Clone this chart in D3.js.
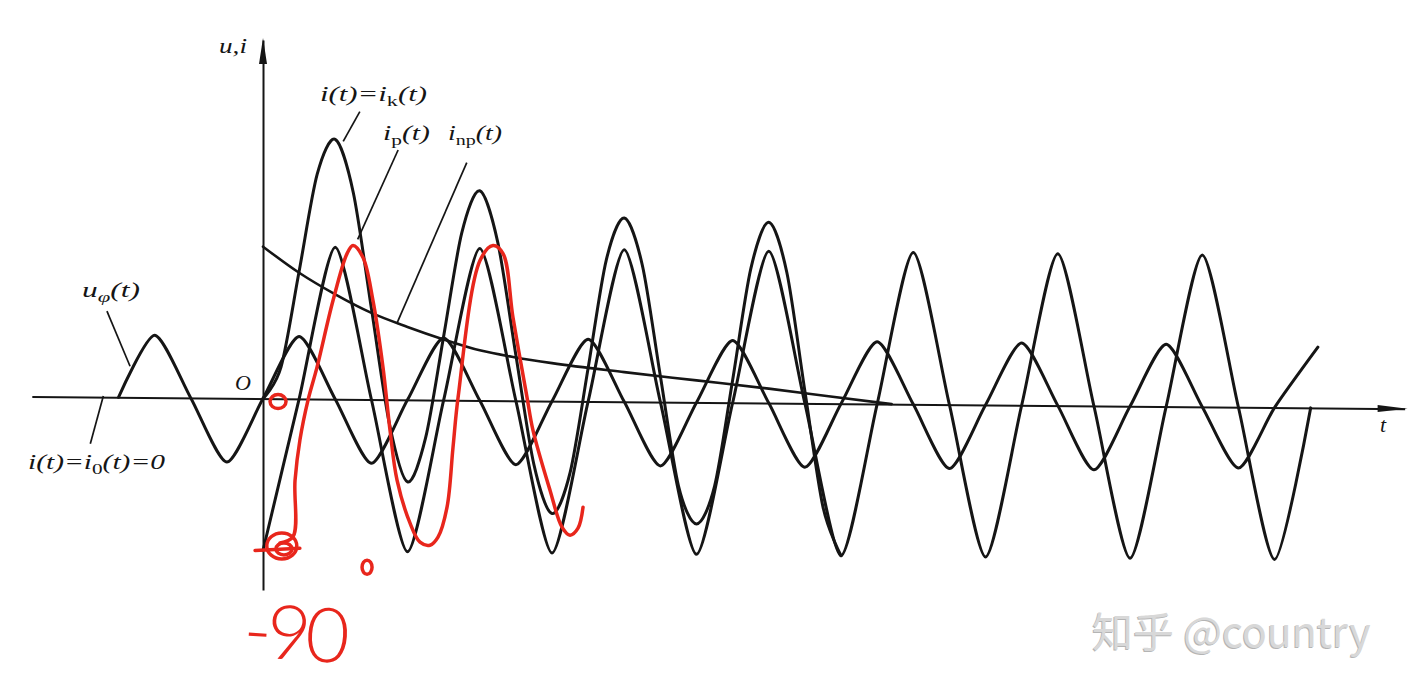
<!DOCTYPE html>
<html>
<head>
<meta charset="utf-8">
<script src="https://cdn.jsdelivr.net/npm/d3@7"></script>
<style>
body { margin: 0; background: #fff; }
svg { display: block; }
.lbl { font-family: "Liberation Serif", "DejaVu Serif", serif; font-style: italic; fill: #151515; }
</style>
</head>
<body>
<svg id="chart" width="1416" height="694"></svg>
<script>
// values. t in ms (one period = 20 ms), u and i in units of the
// periodic current amplitude.

var uPhi = [[-20,0],[-15,0.41],[-10,0],[-5,-0.42],[0,0],[5,0.41],[10,0],[15,-0.42],[20,0],
    [25,0.41],[30,0],[35,-0.42],[40,0],[45,0.41],[50,0],[55,-0.42],[60,0],[65,0.41],[70,0],
    [75,-0.42],[80,0],[85,0.41],[90,0],[95,-0.42],[100,0],[105,0.41],[110,0],[115,-0.42],
    [120,0],[125,0.41],[130,0],[135,-0.40],[140,0],[146,0.40]];

var iP = [[0,-1],[5,0],[10,1],[15,0],[20,-1],[25,0],[30,1],[35,0],[40,-1],[45,0],[50,1],
    [55,0],[60,-1],[65,0],[70,1],[75,0],[80,-1],[85,0],[90,1],[95,0],[100,-1],[105,0],
    [110,1],[115,0],[120,-1],[125,0],[130,1],[135,0],[140,-1],[145,0]];

var iNp = [[0,1.0],[5,0.83],[10,0.69],[15,0.57],[20,0.48],[25,0.40],[30,0.33],[35,0.285],
    [40,0.25],[50,0.195],[60,0.145],[70,0.095],[78,0.05],[87,0]];

var iK = [[0,0],[2.5,0.21],[5,0.84],[7.5,1.48],[10,1.71],[12.5,1.36],[15,0.60],[17.5,-0.16],
    [20,-0.54],[22.5,-0.25],[25,0.42],[27.5,1.10],[30,1.38],[32.5,1.04],[35,0.30],[37.5,-0.42],
    [40,-0.74],[42.5,-0.47],[45,0.22],[47.5,0.93],[50,1.21],[52.5,0.90],[55,0.17],[57.5,-0.55],
    [60,-0.80],[62.5,-0.55],[65,0.15],[67.5,0.88],[70,1.19],[72.5,0.86],[75,0.08],[77.5,-0.68],
    [80,-1]];

// red pen strokes drawn over the scan
var redPen = [[2.35,-0.95],[4.15,-0.91],[4.43,-0.54],[5.12,-0.27],[6.23,-0.01],[7.47,0.205],
    [9.69,0.645],[11.63,0.954],[12.46,1.007],[13.84,0.928],[15.22,0.645],[16.61,0.205],
    [17.58,-0.209],[18.55,-0.537],[20.35,-0.82],[21.73,-0.945],[23.11,-0.965],[24.22,-0.912],
    [25.47,-0.715],[26.30,-0.32],[27.0,0.008],[30.03,0.908],[31.83,1.007],[33.22,0.954],
    [34.60,0.533],[36.54,0.008],[37.37,-0.209],[39.72,-0.603],[41.38,-0.846],[42.49,-0.899],
    [43.60,-0.853],[44.29,-0.715]];

var svg = d3.select("#chart");
var x = d3.scaleLinear().domain([-32, 158]).range([31.8, 1404.6]);
var y = d3.scaleLinear().domain([-1.26, 2.36]).range([590, 40]);
var ink = "#151515", red = "#e8261c";

// the scan is slightly sheared: the time axis drops ~10px over its length
var plot = svg.append("g")
    .attr("transform", "translate(" + x(0) + "," + y(0) + ") skewY(0.51) translate(" + (-x(0)) + "," + (-y(0)) + ")");

var tAxis = plot.append("g").attr("transform", "translate(0," + y(0) + ")")
    .call(d3.axisBottom(x).tickValues([]).tickSizeOuter(0));
tAxis.select(".domain").attr("stroke", ink).attr("stroke-width", 2);
plot.append("path")
    .attr("d", "M" + (x(158) + 3) + "," + y(0) + "l-30,-3.5l0,7z")
    .attr("fill", ink);

var vAxis = svg.append("g").attr("transform", "translate(" + x(0) + ",0)")
    .call(d3.axisLeft(y).tickValues([]).tickSizeOuter(0));
vAxis.select(".domain").attr("stroke", ink).attr("stroke-width", 2);
svg.append("path")
    .attr("d", "M" + x(0) + "," + (y(2.36) - 2) + "l-4,26l8,0z")
    .attr("fill", ink);

// the printed waves have straight flanks and rounded tips
function lineWith(curve) {
    return d3.line()
        .x(function(d) { return x(d[0]); })
        .y(function(d) { return y(d[1]); })
        .curve(curve);
}

var curves = [
    {data: uPhi, w: 3, gen: lineWith(d3.curveCardinal.tension(0.3))},
    {data: iP, w: 3, gen: lineWith(d3.curveCardinal.tension(0.3))},
    {data: iK, w: 3, gen: lineWith(d3.curveCardinal.tension(0.1))},
    {data: iNp, w: 2.6, gen: lineWith(d3.curveMonotoneX)}
];
plot.selectAll(".wave").data(curves).enter()
    .append("path")
    .attr("class", "wave")
    .attr("d", function(d) { return d.gen(d.data); })
    .attr("fill", "none")
    .attr("stroke", ink)
    .attr("stroke-width", function(d) { return d.w; })
    .attr("stroke-linejoin", "round")
    .attr("stroke-linecap", "round");

// leader lines, in data units
var leaders = [
    [[13.4,1.894],[11.1,1.697]],
    [[18.7,1.644],[13.1,1.053]],
    [[28.2,1.565],[18.5,0.500]],
    [[-21.6,0.566],[-18.4,0.205]],
    [[-23.9,-0.307],[-22.1,0.008]]
];
plot.selectAll(".leader").data(leaders).enter()
    .append("path")
    .attr("class", "leader")
    .attr("d", lineWith(d3.curveLinear))
    .attr("stroke", ink)
    .attr("stroke-width", 1.7)
    .attr("fill", "none");

function label(parts, px, py, size, len) {
    var t = svg.append("text").attr("class", "lbl")
        .attr("x", px).attr("y", py)
        .attr("font-size", size);
    if (len) t.attr("textLength", len).attr("lengthAdjust", "spacingAndGlyphs");
    var shift = 0;
    parts.forEach(function(p) {
        var dy = 0;
        if (p.sub && !shift) { dy = 5; shift = 5; }
        else if (!p.sub && shift) { dy = -5; shift = 0; }
        t.append("tspan").attr("dy", dy)
            .attr("font-size", p.sub ? size * 0.72 : size)
            .attr("font-style", p.up ? "normal" : null)
            .text(p.s);
    });
}

label([{s: "u,i"}], 219, 53, 22, 28);
label([{s: "i(t)=i"}, {s: "k", sub: true, up: true}, {s: "(t)"}], 320, 101, 21, 107);
label([{s: "i"}, {s: "p", sub: true, up: true}, {s: "(t)"}], 383, 140, 21, 47);
label([{s: "i"}, {s: "np", sub: true, up: true}, {s: "(t)"}], 448, 140, 21, 54);
label([{s: "u"}, {s: "φ", sub: true}, {s: "(t)"}], 82, 297, 21, 58);
label([{s: "i(t)=i"}, {s: "0", sub: true, up: true}, {s: "(t)=0"}], 28, 469, 21, 137);
label([{s: "O"}], 235, 390, 22);
label([{s: "t"}], 1380, 432, 22);

// red pen annotations
svg.append("path")
    .attr("d", lineWith(d3.curveCatmullRom)(redPen))
    .attr("fill", "none").attr("stroke", red).attr("stroke-width", 3.5)
    .attr("stroke-linecap", "round").attr("stroke-linejoin", "round");

var loops = [
    {t: 2.08, v: -0.02, rx: 8, ry: 7},
    {t: 2.6, v: -0.97, rx: 15, ry: 13},
    {t: 2.9, v: -0.99, rx: 8, ry: 6},
    {t: 14.4, v: -1.11, rx: 5, ry: 7}
];
svg.selectAll(".loop").data(loops).enter()
    .append("ellipse")
    .attr("cx", function(d) { return x(d.t); })
    .attr("cy", function(d) { return y(d.v); })
    .attr("rx", function(d) { return d.rx; })
    .attr("ry", function(d) { return d.ry; })
    .attr("fill", "none").attr("stroke", red).attr("stroke-width", 3.5);
svg.append("path")
    .attr("d", "M" + x(-1.1) + "," + y(-1.0) + "L" + x(5.1) + "," + y(-0.985))
    .attr("stroke", red).attr("stroke-width", 3.5).attr("stroke-linecap", "round");

// handwritten "-90" (the degree ring is the small loop above)
svg.append("text")
    .attr("x", 244).attr("y", 660)
    .attr("font-size", 76)
    .attr("textLength", 106).attr("lengthAdjust", "spacing")
    .attr("transform", "rotate(4,296,630)")
    .attr("fill", red)
    .style("font-family", "Lato, 'Noto Sans', 'DejaVu Sans', sans-serif")
    .style("font-weight", 300)
    .text("-90");

// watermark
var wm = svg.append("g").style("font-family", "'Noto Sans CJK SC', sans-serif").attr("font-size", 41);
wm.append("text").attr("x", 1091).attr("y", 648).attr("fill", "#b4b4b4").text("知乎 @country");
wm.append("text").attr("x", 1092).attr("y", 647).attr("fill", "#d8d8d8").text("知乎 @country");
</script>
</body>
</html>
